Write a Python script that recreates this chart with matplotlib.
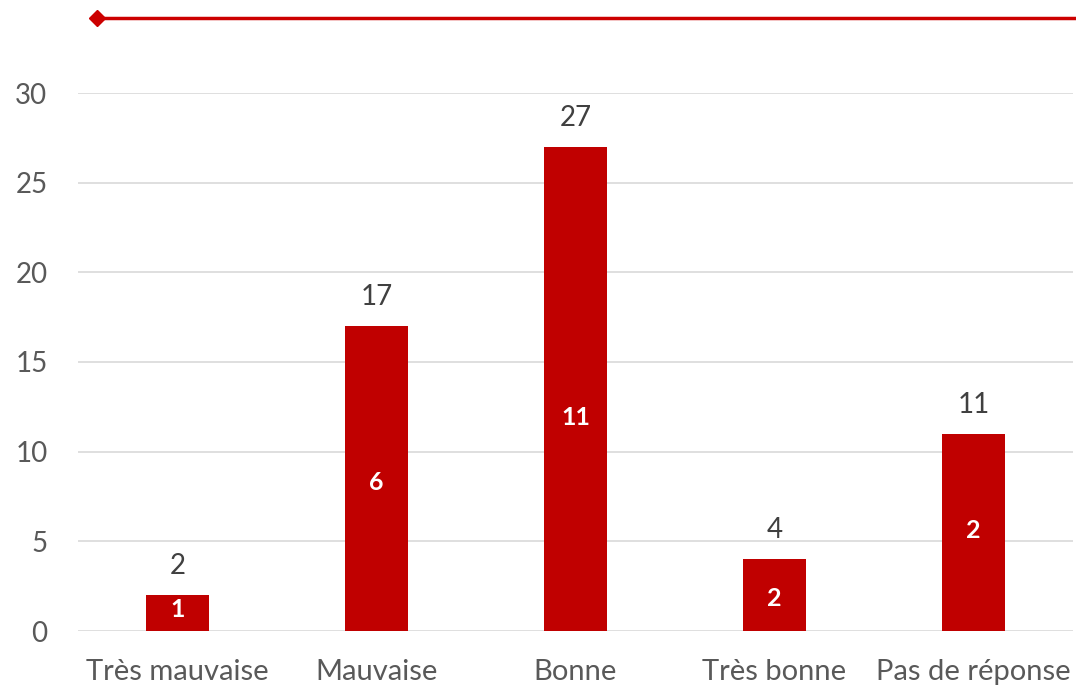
import matplotlib.pyplot as plt
from matplotlib.lines import Line2D

categories = ["Très mauvaise", "Mauvaise", "Bonne", "Très bonne", "Pas de réponse"]
totals = [2, 17, 27, 4, 11]
inner = [1, 6, 11, 2, 2]
inner_pos = [1.2, 8.3, 11.9, 1.8, 5.6]  # where the white labels sit (data units)

red = "#C00000"
grey = "#595959"

plt.rcParams['font.family'] = ['Lato', 'DejaVu Sans']

fig = plt.figure(figsize=(10.76, 6.87), dpi=100)
ax = fig.add_axes([78 / 1076, 1 - 631 / 687, (1073 - 78) / 1076, (631 - 93) / 687])

x = range(len(categories))
ax.bar(x, totals, width=0.32, color=red, zorder=3)

for i, v in enumerate(totals):
    ax.annotate(str(v), (i, v), xytext=(0, 21), textcoords="offset points",
                ha="center", va="center", fontsize=20, color="#404040")
for i, v in enumerate(inner):
    ax.text(i, inner_pos[i], str(v), ha="center", va="center",
            fontsize=18, color="white", fontweight="bold", zorder=4)

ax.set_xlim(-0.5, 4.5)
ax.set_ylim(0, 30)
ax.set_yticks(range(0, 31, 5))
ax.set_xticks(list(x))
ax.set_xticklabels(categories, fontsize=21)
ax.tick_params(axis="both", length=0, colors=grey)
ax.tick_params(axis="y", labelsize=20, pad=22)
ax.tick_params(axis="x", pad=20)
ax.grid(axis="y", color="#D9D9D9", linewidth=1.2, zorder=0)
for s in ax.spines.values():
    s.set_visible(False)

# red rule with diamond at the top of the chart
fig.add_artist(Line2D([97 / 1076, 1.0], [1 - 18 / 687] * 2, color="#CC0000", linewidth=2.5))
fig.add_artist(Line2D([97 / 1076], [1 - 18 / 687], marker="D", markersize=8,
                      color="#CC0000", linestyle="none"))

fig.savefig("out.png", dpi=100)
